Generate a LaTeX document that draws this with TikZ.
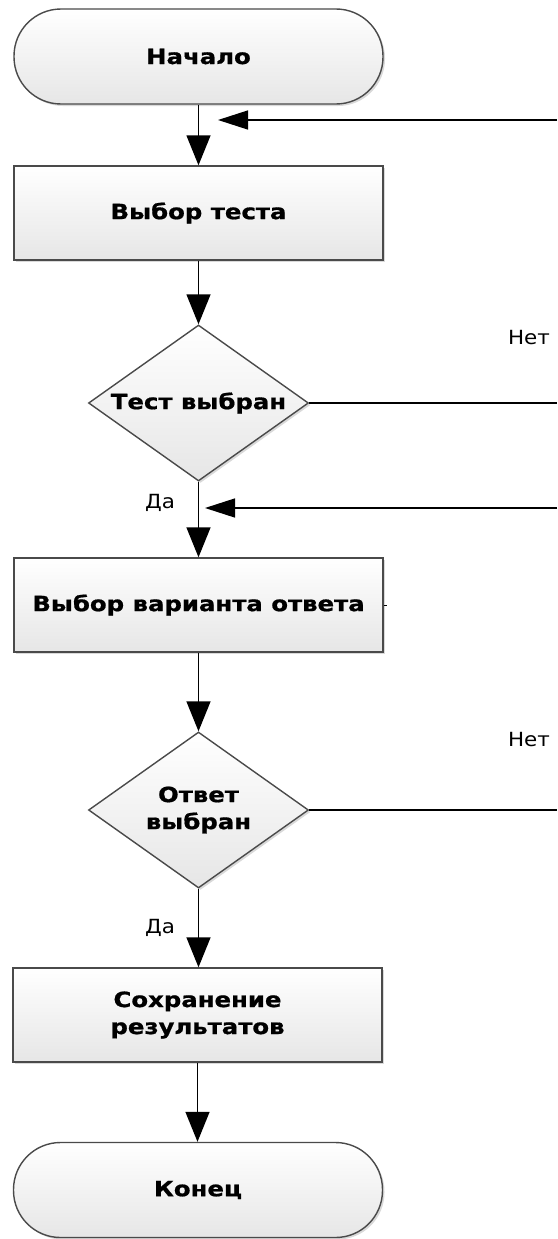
\documentclass[tikz,border=0pt]{standalone}
\usepackage{fontspec}
\setmainfont{DejaVu Sans}
\newfontfamily\bfnt[FakeStretch=1.16,BoldFeatures={FakeBold=0.8}]{DejaVu Sans}
\newfontfamily\lfnt[FakeStretch=1.1]{DejaVu Sans}
\usetikzlibrary{arrows.meta,shapes.geometric,shadows}
\definecolor{edgec}{HTML}{4A4A4A}
\definecolor{fillb}{HTML}{E6E6E6}
\tikzset{
  x=1pt, y=-1pt,
  shapebase/.style={draw=edgec, line width=1.4pt, top color=white, bottom color=fillb,
    drop shadow={shadow xshift=2pt, shadow yshift=-2pt, opacity=0.25, fill=black!60}},
  termbox/.style={shapebase, rectangle, rounded corners=47pt, minimum width=369pt, minimum height=95pt},
  procbox/.style={shapebase, rectangle, minimum width=369pt, minimum height=94pt},
  decbox/.style={shapebase, diamond, minimum width=220pt, minimum height=156pt, inner sep=0pt},
  txt/.style={font=\bfnt\bfseries\fontsize{21}{27}\selectfont, align=center, inner sep=0pt},
  lbl/.style={font=\lfnt\fontsize{19.5}{22}\selectfont, inner sep=0pt},
  conn/.style={draw=black, line width=1.4pt, -{Triangle[length=30pt,width=24pt]}},
  back/.style={draw=black, line width=1.4pt, -{Triangle[length=30pt,width=19pt]}},
  plain/.style={draw=black, line width=1.4pt}
}
\begin{document}
\begin{tikzpicture}
\useasboundingbox (0,0) rectangle (557,1239);
% nodes
\node[termbox] (start) at (198.5,56.5) {};
\node[txt] (startt) at (start) {Начало};
\node[procbox] (b1) at (198.5,213) {};
\node[txt] (b1t) at (b1) {Выбор теста};
\node[decbox] (d1) at (198.5,403) {};
\node[txt] (d1t) at (d1) {Тест выбран};
\node[procbox] (b2) at (198.5,605) {};
\node[txt] (b2t) at (b2) {Выбор варианта ответа};
\node[decbox] (d2) at (198.5,810) {};
\node[txt] (d2t) at (d2) {Ответ\\выбран};
\node[procbox] (b3) at (197.5,1015) {};
\node[txt] (b3t) at (b3) {Сохранение\\результатов};
\node[termbox] (end) at (198,1190) {};
\node[txt] (endt) at (end) {Конец};
% labels
\node[lbl] (no1) at (529,338) {Нет};
\node[lbl] (yes1) at (160,503) {Да};
\node[lbl] (no2) at (529,740) {Нет};
\node[lbl] (yes2) at (160,928) {Да};
% helper coordinates
\coordinate (r1) at (557,120);
\coordinate (r1t) at (218,120);
\coordinate (r2) at (557,508);
\coordinate (r2t) at (205,508);
\coordinate (e1) at (557,403);
\coordinate (e2) at (557,810);
\coordinate (dsh) at (387,605);
% connectors
\draw[conn] (start.south) -- (b1.north);
\draw[conn] (b1.south) -- (d1.north);
\draw[conn] (d1.south) -- (b2.north);
\draw[conn] (b2.south) -- (d2.north);
\draw[conn] (d2.south) -- (d2.south |- b3.north);
\draw[conn] (b3.south) -- (b3.south |- end.north);
\draw[plain] (d1.east) -- (e1);
\draw[plain] (d2.east) -- (e2);
\draw[back] (r1) -- (r1t);
\draw[back] (r2) -- (r2t);
\draw[plain, line width=1pt] (b2.east) -- (dsh);
\end{tikzpicture}
\end{document}
